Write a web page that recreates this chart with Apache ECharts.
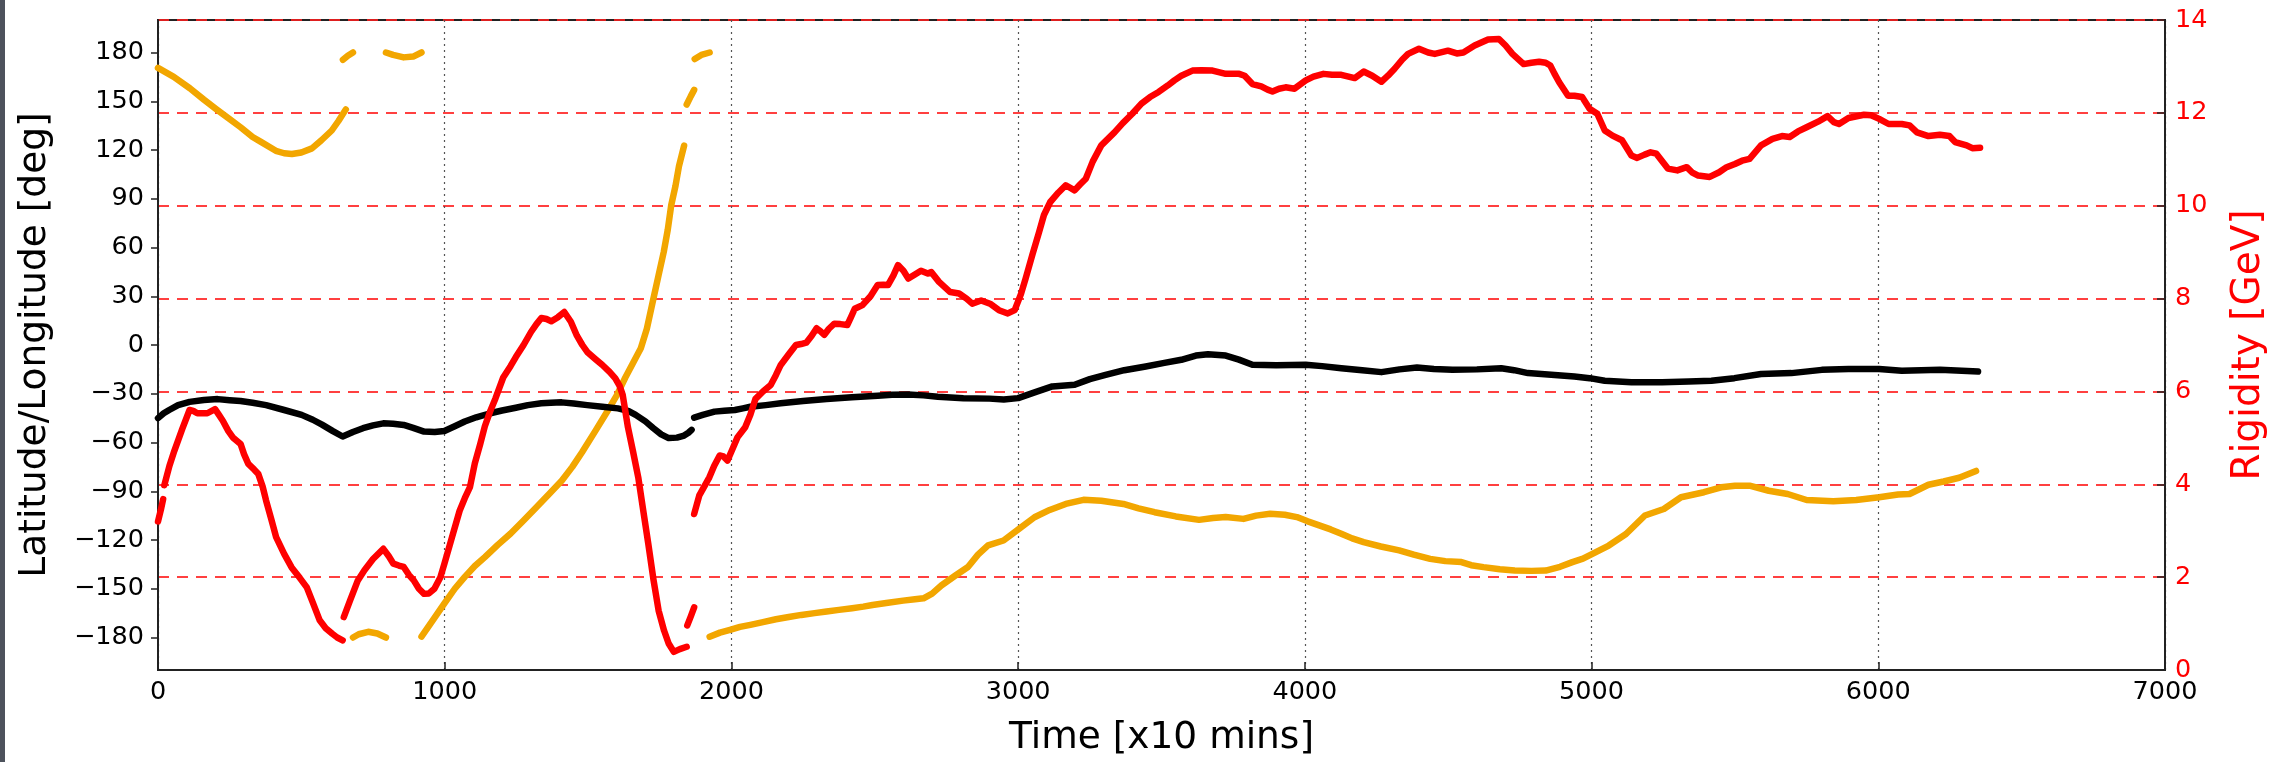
<!DOCTYPE html>
<html>
<head>
<meta charset="utf-8">
<script src="https://cdn.jsdelivr.net/npm/echarts@6/dist/echarts.min.js"></script>
<style>
  html, body { margin: 0; padding: 0; background: #ffffff; }
  #chart { width: 2276px; height: 762px; }
  #strip { position: absolute; left: 0; top: 0; width: 5px; height: 762px; background: #4d525c; }
</style>
</head>
<body>
<div id="chart"></div>
<div id="strip"></div>
<script>
// ---- Axis ticks ----
const xTicks = [0, 1000, 2000, 3000, 4000, 5000, 6000, 7000];
const degTicks = [-180, -150, -120, -90, -60, -30, 0, 30, 60, 90, 120, 150, 180];
const rigTicks = [0, 2, 4, 6, 8, 10, 12, 14];

// ---- Latitude [deg] (black), time in x10 mins ----
const latSeg1 = [[0,-45],[20,-42],[39,-40],[70,-37],[110,-35],[160,-33.8],[208,-33.3],[250,-34],[288,-34.5],[330,-35.5],[377,-37],[440,-40],[501,-43],[540,-46],[572,-49],[610,-53],[644,-56.3],[680,-53.5],[715,-51.2],[750,-49.5],[786,-48.2],[820,-48.5],[857,-49.2],[890,-51],[928,-53.3],[965,-53.5],[999,-52.9],[1035,-50],[1070,-47.1],[1110,-44.5],[1159,-42],[1200,-40.3],[1248,-38.6],[1290,-37],[1337,-35.9],[1370,-35.5],[1408,-35.3],[1450,-36],[1497,-37],[1550,-38],[1604,-39],[1640,-40.5],[1666,-43],[1700,-47],[1728,-51.2],[1755,-55],[1781,-57.3],[1810,-57],[1835,-55.7],[1850,-54],[1861,-52.2]];
const latSeg2 = [[1870,-44.7],[1900,-43],[1941,-41],[1975,-40.5],[2012,-40],[2040,-39],[2066,-38],[2120,-37],[2172,-35.9],[2250,-34.5],[2332,-33.3],[2420,-32.2],[2510,-31.2],[2560,-30.6],[2617,-30.4],[2670,-31],[2720,-31.8],[2809,-32.7],[2900,-33],[2950,-33.5],[3000,-32.7],[3060,-29],[3119,-25.5],[3197,-24.5],[3250,-21],[3305,-18.4],[3370,-15.5],[3445,-13.2],[3510,-11],[3569,-9.1],[3620,-6.5],[3662,-5.7],[3724,-6.5],[3770,-9],[3817,-12.2],[3900,-12.5],[4003,-12.2],[4060,-13],[4127,-14.3],[4200,-15.5],[4267,-16.7],[4330,-15],[4391,-13.9],[4450,-14.8],[4515,-15.3],[4600,-15],[4685,-14.3],[4730,-15.5],[4778,-17.3],[4871,-18.4],[4940,-19.4],[4993,-20.4],[5046,-22],[5139,-22.9],[5246,-22.9],[5339,-22.5],[5418,-22],[5498,-20.4],[5591,-17.9],[5697,-17.3],[5803,-15.3],[5896,-14.7],[6003,-14.7],[6082,-15.9],[6150,-15.5],[6215,-15.3],[6348,-16.3]];

// ---- Longitude [deg] (orange), wraps at +/-180 ----
const lonSeg1 = [[0,170.5],[55,165],[111,158],[160,151],[204,145],[250,139],[288,134],[330,128],[359,125],[411,119.5],[440,118],[467,117.5],[500,118.5],[537,121],[570,126],[606,132],[630,138],[655,145]];
const lonSeg2 = [[645,175.5],[662,178],[680,180]];
const lonSeg3 = [[680,-180],[700,-178],[733,-176.5],[765,-177.5],[795,-180]];
const lonSeg4 = [[795,180],[820,178.5],[857,177],[890,177.5],[919,180]];
const lonSeg5 = [[919,-179.5],[960,-169],[999,-159],[1035,-150],[1070,-142.7],[1105,-136],[1141,-130.4],[1185,-123],[1230,-116],[1275,-108],[1319,-100],[1365,-91.5],[1408,-83.5],[1445,-75],[1479,-66],[1525,-53],[1568,-40.6],[1600,-31],[1630,-20],[1660,-10],[1684,-2],[1705,10],[1728,28.6],[1746,43],[1764,57.3],[1778,71],[1790,86],[1805,98],[1817,110],[1835,122.7]];
const lonSeg6 = [[1844,148],[1858,153],[1870,157]];
const lonSeg7 = [[1872,176],[1895,178.5],[1924,180]];
const lonSeg8 = [[1924,-179.5],[1960,-177],[1995,-175.3],[2030,-173.5],[2066,-172.2],[2110,-170.5],[2155,-168.8],[2200,-167.4],[2244,-166.1],[2290,-165],[2332,-164],[2375,-163],[2421,-162],[2460,-161],[2492,-160],[2540,-158.8],[2599,-157.3],[2640,-156.5],[2670,-155.9],[2700,-153],[2732,-148],[2780,-142],[2825,-136.6],[2860,-129],[2895,-123.3],[2949,-120.3],[3003,-113.1],[3057,-106],[3110,-101.5],[3166,-97.8],[3228,-95.3],[3290,-95.8],[3367,-97.8],[3420,-100.5],[3476,-102.9],[3550,-105.5],[3631,-107.6],[3680,-106.5],[3724,-105.9],[3786,-107],[3830,-105],[3879,-103.9],[3930,-104.5],[3972,-105.9],[4010,-108.5],[4050,-111],[4090,-113.5],[4127,-116.1],[4165,-119],[4205,-121.3],[4265,-124],[4329,-126.4],[4380,-129],[4437,-131.6],[4490,-133],[4546,-133.6],[4580,-135.5],[4623,-136.7],[4680,-138],[4732,-138.8],[4790,-139],[4840,-138.8],[4890,-136.5],[4933,-133.6],[4970,-131.5],[5003,-128.5],[5060,-123.4],[5120,-116.3],[5186,-104.9],[5252,-100.9],[5312,-93.7],[5392,-90.6],[5452,-87.6],[5500,-86.6],[5551,-86.6],[5618,-89.7],[5684,-91.7],[5750,-95.4],[5843,-96.2],[5923,-95.4],[6003,-93.7],[6069,-92],[6109,-91.7],[6175,-86],[6228,-84],[6282,-81.7],[6341,-77.5]];

// ---- Rigidity [GeV] (red, right axis) ----
const rigSeg1 = [[0,3.2],[10,3.45],[18,3.68]];
const rigSeg2 = [[22,3.98],[40,4.4],[57,4.72],[85,5.2],[110,5.6],[123,5.58],[137,5.53],[172,5.53],[199,5.62],[212,5.5],[226,5.37],[245,5.15],[261,5.01],[288,4.87],[300,4.65],[315,4.44],[335,4.32],[350,4.22],[365,3.95],[377,3.65],[395,3.25],[412,2.86],[440,2.5],[466,2.21],[495,1.98],[519,1.78],[540,1.45],[564,1.07],[585,0.9],[608,0.78],[625,0.7],[644,0.64]];
const rigSeg3 = [[648,1.14],[670,1.5],[697,1.93],[720,2.15],[750,2.39],[786,2.61],[805,2.45],[821,2.29],[840,2.25],[857,2.22],[875,2.05],[892,1.93],[910,1.75],[928,1.64],[945,1.65],[964,1.75],[985,2.0],[999,2.29],[1025,2.85],[1052,3.43],[1070,3.7],[1088,3.94],[1105,4.45],[1124,4.87],[1140,5.25],[1159,5.58],[1177,5.85],[1204,6.3],[1230,6.55],[1248,6.74],[1275,7.0],[1301,7.28],[1320,7.45],[1337,7.58],[1355,7.56],[1372,7.51],[1395,7.6],[1417,7.71],[1440,7.5],[1461,7.2],[1480,7.0],[1497,6.85],[1525,6.7],[1550,6.57],[1575,6.42],[1595,6.28],[1610,6.12],[1621,5.92],[1639,5.23],[1657,4.7],[1675,4.15],[1692,3.45],[1710,2.72],[1728,1.95],[1746,1.28],[1765,0.85],[1781,0.57],[1799,0.39],[1820,0.45],[1844,0.5]];
const rigSeg4 = [[1846,0.96],[1858,1.15],[1870,1.35]];
const rigSeg5 = [[1870,3.36],[1888,3.76],[1905,3.95],[1923,4.15],[1940,4.4],[1959,4.62],[1972,4.6],[1986,4.51],[2003,4.75],[2021,5.01],[2048,5.23],[2066,5.5],[2084,5.84],[2110,6.0],[2137,6.14],[2155,6.35],[2172,6.57],[2200,6.8],[2225,7.0],[2243,7.02],[2261,7.05],[2280,7.2],[2297,7.36],[2310,7.3],[2324,7.22],[2340,7.35],[2359,7.46],[2380,7.45],[2404,7.43],[2417,7.6],[2430,7.78],[2457,7.86],[2485,8.05],[2510,8.29],[2530,8.3],[2546,8.29],[2565,8.5],[2581,8.72],[2600,8.6],[2617,8.43],[2640,8.52],[2661,8.6],[2685,8.54],[2697,8.57],[2724,8.36],[2763,8.14],[2794,8.11],[2820,8.0],[2840,7.89],[2871,7.96],[2902,7.89],[2933,7.75],[2964,7.68],[2988,7.75],[3010,8.1],[3026,8.43],[3050,8.95],[3073,9.43],[3090,9.8],[3112,10.08],[3140,10.28],[3166,10.44],[3197,10.33],[3215,10.45],[3236,10.58],[3260,10.95],[3290,11.3],[3336,11.58],[3365,11.78],[3398,11.98],[3430,12.2],[3460,12.34],[3490,12.45],[3522,12.59],[3545,12.7],[3569,12.8],[3608,12.91],[3640,12.92],[3678,12.91],[3724,12.84],[3771,12.84],[3790,12.8],[3817,12.62],[3848,12.57],[3870,12.5],[3887,12.46],[3910,12.52],[3933,12.55],[3964,12.52],[4003,12.7],[4030,12.78],[4065,12.84],[4095,12.82],[4127,12.82],[4174,12.75],[4205,12.89],[4235,12.8],[4267,12.67],[4290,12.8],[4313,12.95],[4340,13.15],[4360,13.27],[4398,13.38],[4430,13.3],[4453,13.27],[4499,13.34],[4530,13.28],[4553,13.3],[4592,13.45],[4639,13.58],[4677,13.59],[4700,13.45],[4724,13.27],[4763,13.05],[4790,13.08],[4817,13.1],[4840,13.08],[4856,13.02],[4870,12.85],[4887,12.66],[4918,12.37],[4940,12.37],[4967,12.34],[4993,12.09],[5020,11.98],[5046,11.62],[5073,11.51],[5106,11.41],[5139,11.08],[5159,11.03],[5185,11.1],[5206,11.15],[5226,11.12],[5266,10.8],[5299,10.76],[5332,10.83],[5350,10.72],[5372,10.65],[5412,10.62],[5445,10.72],[5471,10.83],[5500,10.9],[5525,10.97],[5551,11.01],[5591,11.3],[5631,11.44],[5664,11.5],[5691,11.48],[5720,11.6],[5750,11.69],[5790,11.81],[5823,11.93],[5845,11.8],[5863,11.76],[5896,11.89],[5950,11.96],[5975,11.95],[6003,11.87],[6036,11.76],[6082,11.76],[6109,11.73],[6135,11.58],[6175,11.5],[6215,11.53],[6248,11.5],[6268,11.37],[6308,11.3],[6328,11.24],[6355,11.25]];

const latSegments = [latSeg1, latSeg2];
const lonSegments = [lonSeg1, lonSeg2, lonSeg3, lonSeg4, lonSeg5, lonSeg6, lonSeg7, lonSeg8];
const rigSegments = [rigSeg1, rigSeg2, rigSeg3, rigSeg4, rigSeg5];

const FONT = 'DejaVu Sans';
const COL_LAT = '#000000';
const COL_LON = '#f2a600';
const COL_RIG = '#ff0000';
const fmt = v => String(v).replace('-', '\u2212');

function mk(seg, color, axis, name) {
  return {
    name: name, type: 'line', data: seg, yAxisIndex: axis,
    showSymbol: false, symbol: 'none', smooth: false, animation: false,
    lineStyle: { color: color, width: 6.5, cap: 'round', join: 'round' },
    z: axis === 1 ? 4 : 3
  };
}

const series = [];
lonSegments.forEach(s => series.push(mk(s, COL_LON, 0, 'Longitude')));
latSegments.forEach(s => series.push(mk(s, COL_LAT, 0, 'Latitude')));
rigSegments.forEach(s => series.push(mk(s, COL_RIG, 1, 'Rigidity')));

const chart = echarts.init(document.getElementById('chart'), null, { renderer: 'canvas' });
chart.setOption({
  backgroundColor: '#ffffff',
  animation: false,
  textStyle: { fontFamily: FONT },
  grid: { left: 158, right: 102, top: 20, bottom: 89, show: true, borderColor: '#222', borderWidth: 2, backgroundColor: 'transparent' },
  xAxis: {
    type: 'value', min: xTicks[0], max: xTicks[xTicks.length - 1], interval: 1000,
    name: 'Time [x10 mins]', nameLocation: 'middle', nameGap: 49,
    nameTextStyle: { fontFamily: FONT, fontSize: 37.5, color: '#000' },
    axisLine: { show: true, onZero: false, lineStyle: { color: '#222', width: 2 } },
    axisTick: { show: true, inside: true, length: 8, lineStyle: { color: '#222', width: 1.5 } },
    axisLabel: { fontFamily: FONT, fontSize: 25.5, color: '#000', margin: 9, formatter: fmt },
    splitLine: { show: true, lineStyle: { color: '#555', width: 1.2, type: [2, 4] } }
  },
  yAxis: [
    {
      type: 'value', min: -200, max: 200, position: 'left',
      name: 'Latitude/Longitude [deg]', nameLocation: 'middle', nameGap: 104, nameRotate: 90,
      nameTextStyle: { fontFamily: FONT, fontSize: 37.5, color: '#000' },
      axisLine: { show: true, onZero: false, lineStyle: { color: '#222', width: 2 } },
      axisTick: { show: true, inside: false, length: 7, customValues: degTicks, lineStyle: { color: '#222', width: 1.5 } },
      axisLabel: { fontFamily: FONT, fontSize: 25.5, color: '#000', margin: 14, customValues: degTicks, formatter: fmt },
      splitLine: { show: false }
    },
    {
      type: 'value', min: rigTicks[0], max: rigTicks[rigTicks.length - 1], interval: 2, position: 'right',
      name: 'Rigidity [GeV]', nameLocation: 'middle', nameGap: 64, nameRotate: 90,
      nameTextStyle: { fontFamily: FONT, fontSize: 39, color: COL_RIG },
      axisLine: { show: true, onZero: false, lineStyle: { color: '#222', width: 2 } },
      axisTick: { show: true, inside: true, length: 8, lineStyle: { color: '#222', width: 1.5 } },
      axisLabel: { fontFamily: FONT, fontSize: 25.5, color: COL_RIG, margin: 10, formatter: fmt },
      splitLine: { show: true, lineStyle: { color: 'rgba(255,30,30,0.85)', width: 2, type: [11, 8] } }
    }
  ],
  series: series
});
</script>
</body>
</html>
